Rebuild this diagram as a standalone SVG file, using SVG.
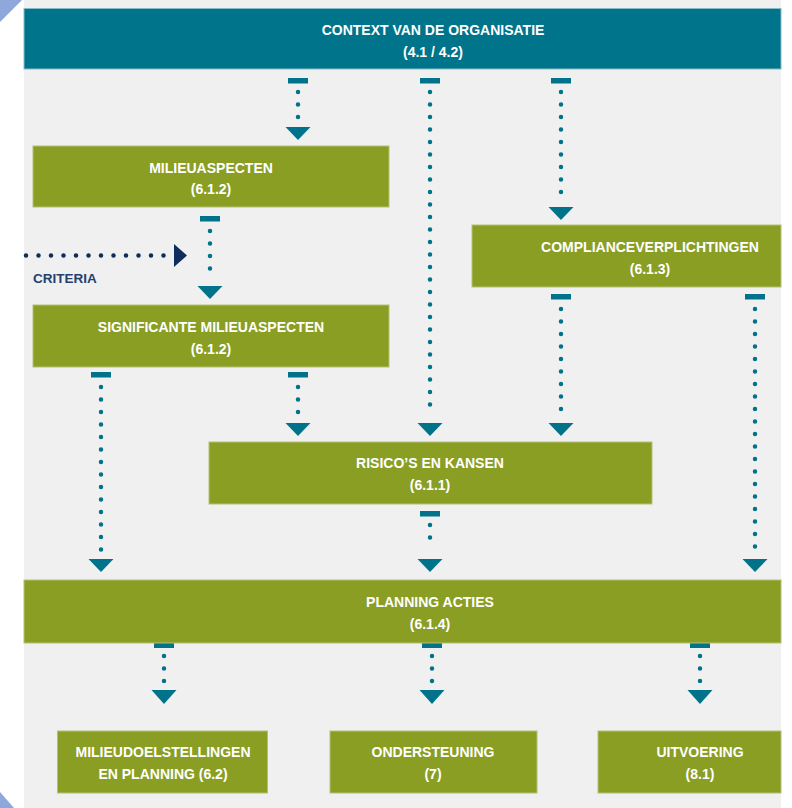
<svg xmlns="http://www.w3.org/2000/svg" width="792" height="808" viewBox="0 0 792 808">
<defs>
<style>
.bg{fill:#f0f0f0}
.hdr{fill:#00748b;stroke:#86bcc8;stroke-width:1}
.box{fill:#8a9e24;stroke:#b3c073;stroke-width:1}
.t{font-family:"Liberation Sans",Arial,sans-serif;font-weight:bold;font-size:14px;fill:#ffffff;text-anchor:middle}
.crit{font-family:"Liberation Sans",Arial,sans-serif;font-weight:bold;font-size:13.5px;fill:#24416f}
.dash{fill:#00738b}
.dots{stroke:#00738b;stroke-width:4.5;stroke-linecap:round;stroke-dasharray:0 12.5;fill:none}
.head{fill:#00738b}
.ndots{stroke:#0f2d5c;stroke-width:4.5;stroke-linecap:round;stroke-dasharray:0 12.5;fill:none}
.nhead{fill:#0f2d5c}
.corner{fill:#8fa8dc}
</style>
</defs>
<rect x="0" y="0" width="792" height="808" fill="#ffffff"/>
<rect class="bg" x="24" y="0" width="757" height="808"/>
<polygon class="corner" points="0,0 22,0 0,22"/>
<polygon class="corner" points="0,792 14,808 0,808"/>

<g id="connectors">
  <g><rect class="dash" x="288" y="78" width="20" height="5.5"/><line class="dots" x1="298" y1="92" x2="298" y2="118"/><polygon class="head" points="285.5,127 310.5,127 298,140"/></g>
  <g><rect class="dash" x="420" y="78" width="20" height="5.5"/><line class="dots" x1="430" y1="92" x2="430" y2="414"/><polygon class="head" points="417.5,423 442.5,423 430,436"/></g>
  <g><rect class="dash" x="551" y="78" width="20" height="5.5"/><line class="dots" x1="561" y1="92" x2="561" y2="198"/><polygon class="head" points="548.5,207 573.5,207 561,220"/></g>
  <g><rect class="dash" x="200" y="216" width="20" height="5.5"/><line class="dots" x1="210" y1="231" x2="210" y2="277"/><polygon class="head" points="197.5,286 222.5,286 210,299"/></g>
  <g><rect class="dash" x="91" y="372" width="20" height="5.5"/><line class="dots" x1="101" y1="387" x2="101" y2="550"/><polygon class="head" points="88.5,559 113.5,559 101,572"/></g>
  <g><rect class="dash" x="288" y="372" width="20" height="5.5"/><line class="dots" x1="298" y1="387" x2="298" y2="414"/><polygon class="head" points="285.5,423 310.5,423 298,436"/></g>
  <g><rect class="dash" x="551" y="294" width="20" height="5.5"/><line class="dots" x1="561" y1="309" x2="561" y2="414"/><polygon class="head" points="548.5,423 573.5,423 561,436"/></g>
  <g><rect class="dash" x="745" y="294" width="20" height="5.5"/><line class="dots" x1="755" y1="309" x2="755" y2="550"/><polygon class="head" points="742.5,559 767.5,559 755,572"/></g>
  <g><rect class="dash" x="420" y="511" width="20" height="5.5"/><line class="dots" x1="430" y1="525" x2="430" y2="550"/><polygon class="head" points="417.5,559 442.5,559 430,572"/></g>
  <g><rect class="dash" x="154" y="643" width="20" height="5"/><line class="dots" x1="164" y1="656" x2="164" y2="682"/><polygon class="head" points="151.5,690 176.5,690 164,704"/></g>
  <g><rect class="dash" x="422" y="643" width="20" height="5"/><line class="dots" x1="432" y1="656" x2="432" y2="682"/><polygon class="head" points="419.5,690 444.5,690 432,704"/></g>
  <g><rect class="dash" x="690" y="643" width="20" height="5"/><line class="dots" x1="700" y1="656" x2="700" y2="682"/><polygon class="head" points="687.5,690 712.5,690 700,704"/></g>
  <g id="criteria-arrow"><line class="ndots" x1="26" y1="255.5" x2="166" y2="255.5"/><polygon class="nhead" points="174,244 187,255.5 174,267"/></g>
</g>

<g id="context">
  <rect class="hdr" x="24" y="8.5" width="757" height="60.5"/>
  <text class="t" x="433" y="35">CONTEXT VAN DE ORGANISATIE</text>
  <text class="t" x="433" y="57">(4.1 / 4.2)</text>
</g>
<g id="milieuaspecten">
  <rect class="box" x="33" y="146" width="356" height="61"/>
  <text class="t" x="211" y="173">MILIEUASPECTEN</text>
  <text class="t" x="211" y="194">(6.1.2)</text>
</g>
<g id="criteria">
  <text class="crit" x="33" y="282.5">CRITERIA</text>
</g>
<g id="compliance">
  <rect class="box" x="472" y="225" width="309" height="62"/>
  <text class="t" x="650" y="252">COMPLIANCEVERPLICHTINGEN</text>
  <text class="t" x="650" y="274">(6.1.3)</text>
</g>
<g id="significante">
  <rect class="box" x="33" y="305" width="356" height="62"/>
  <text class="t" x="211" y="332">SIGNIFICANTE MILIEUASPECTEN</text>
  <text class="t" x="211" y="354">(6.1.2)</text>
</g>
<g id="risico">
  <rect class="box" x="209" y="442" width="443" height="62"/>
  <text class="t" x="430" y="468">RISICO’S EN KANSEN</text>
  <text class="t" x="430" y="490">(6.1.1)</text>
</g>
<g id="planning">
  <rect class="box" x="24" y="580" width="757" height="63"/>
  <text class="t" x="430" y="607">PLANNING ACTIES</text>
  <text class="t" x="430" y="629">(6.1.4)</text>
</g>
<g id="milieudoelstellingen">
  <rect class="box" x="57.5" y="731" width="210" height="62"/>
  <text class="t" x="163" y="757">MILIEUDOELSTELLINGEN</text>
  <text class="t" x="163" y="779">EN PLANNING (6.2)</text>
</g>
<g id="ondersteuning">
  <rect class="box" x="330" y="731" width="207" height="62"/>
  <text class="t" x="433" y="757">ONDERSTEUNING</text>
  <text class="t" x="433" y="779">(7)</text>
</g>
<g id="uitvoering">
  <rect class="box" x="598" y="731" width="183" height="62"/>
  <text class="t" x="700" y="757">UITVOERING</text>
  <text class="t" x="700" y="779">(8.1)</text>
</g>
</svg>
